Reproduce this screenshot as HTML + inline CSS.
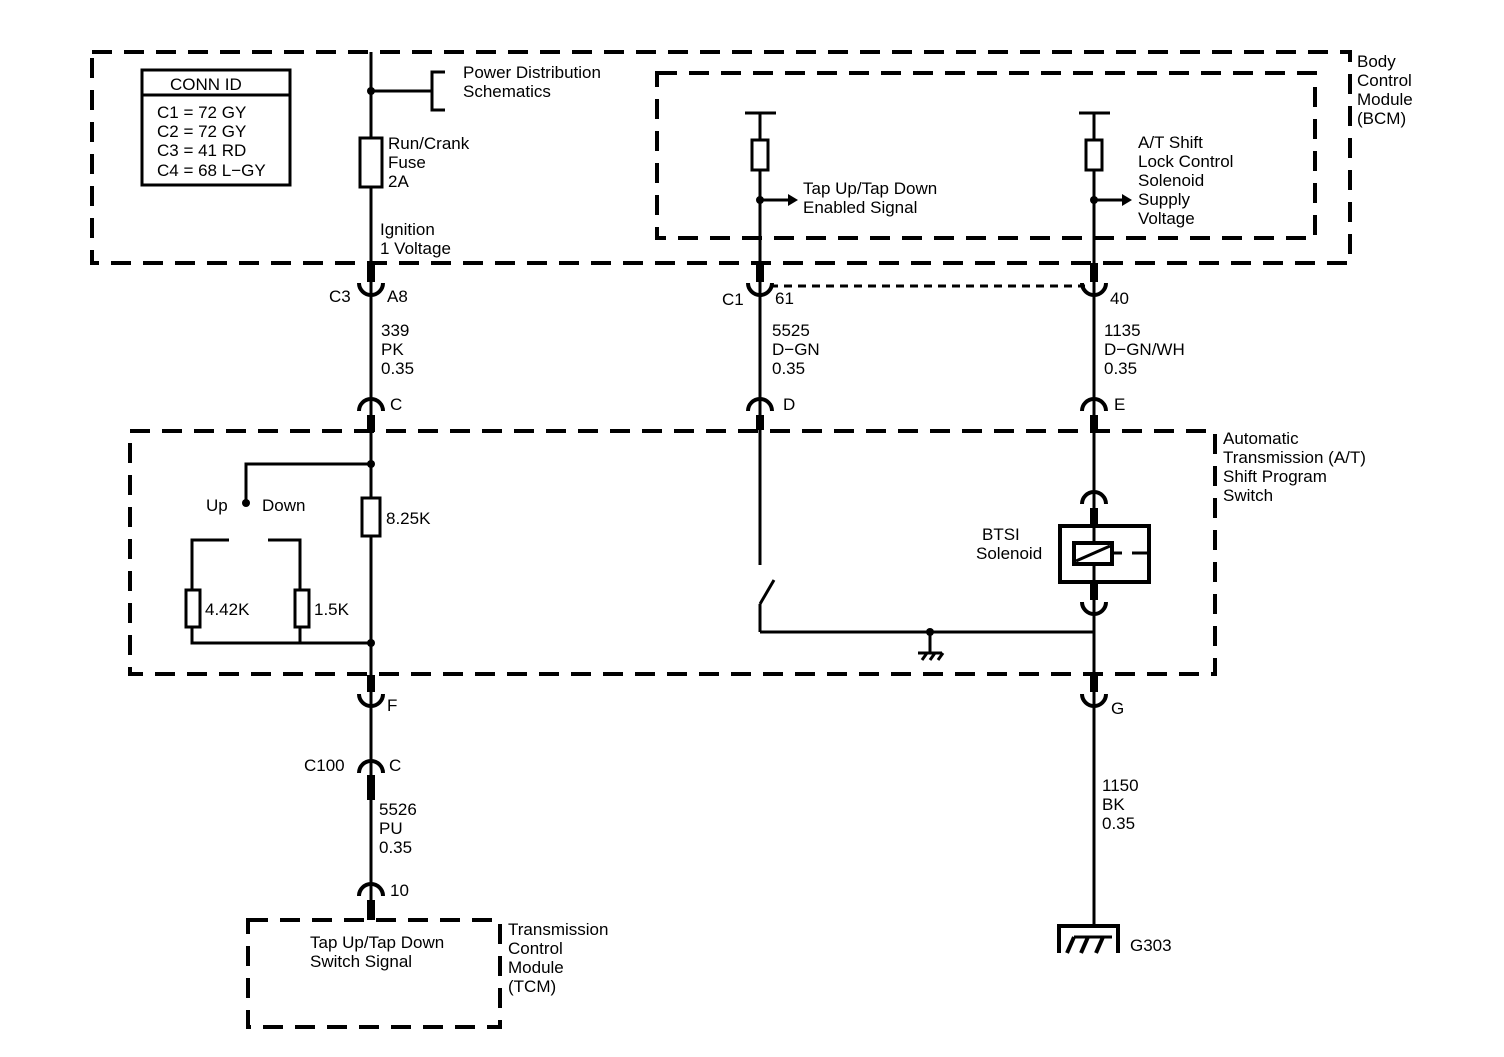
<!DOCTYPE html><html><head><style>body{margin:0;background:#fff}svg text{font-family:"Liberation Sans",sans-serif;font-size:17px;fill:#000}</style></head><body>
<svg width="1504" height="1052" viewBox="0 0 1504 1052" xmlns="http://www.w3.org/2000/svg">
<g fill="none" stroke="#000">
<g stroke-width="4" stroke-dasharray="20,12">
<rect x="92" y="52" width="1258" height="211"/>
<rect x="657" y="73" width="658" height="165"/>
<rect x="130" y="431" width="1085" height="243"/>
<rect x="248" y="920" width="252" height="107"/>
</g>
<line x1="770" y1="286" x2="1085" y2="286" stroke-width="3" stroke-dasharray="8,6"/>
<rect x="142" y="70" width="148" height="115" stroke-width="3"/>
<line x1="142" y1="95" x2="290" y2="95" stroke-width="3"/>
<g stroke-width="3">
<line x1="371" y1="52" x2="371" y2="910"/>
<line x1="371" y1="91" x2="432" y2="91"/><polyline points="445,72 432,72 432,110 445,110"/>
<rect x="360" y="138" width="22" height="49" fill="#fff"/>
<polyline points="371,464 246,464 246,500"/>
<polyline points="229,540 192,540 192,643 371,643"/>
<polyline points="268,540 300,540 300,643"/>
<rect x="186" y="590" width="14" height="37" fill="#fff"/>
<rect x="295" y="590" width="14" height="37" fill="#fff"/>
<rect x="362" y="498" width="18" height="38" fill="#fff"/>
<line x1="745" y1="113" x2="776" y2="113"/><line x1="760" y1="113" x2="760" y2="565"/>
<rect x="752" y="140" width="16" height="30" fill="#fff"/>
<line x1="760" y1="200" x2="790" y2="200"/>
<line x1="760" y1="632" x2="760" y2="604"/><line x1="760" y1="604" x2="774" y2="580"/>
<line x1="760" y1="632" x2="1094" y2="632"/>
<line x1="930" y1="632" x2="930" y2="652"/><line x1="918" y1="653" x2="942" y2="653"/>
<line x1="922" y1="660" x2="927" y2="653"/><line x1="930" y1="660" x2="935" y2="653"/><line x1="938" y1="660" x2="943" y2="653"/>
<line x1="1079" y1="113" x2="1110" y2="113"/><line x1="1094" y1="113" x2="1094" y2="925"/>
<rect x="1086" y="140" width="16" height="30" fill="#fff"/>
<line x1="1094" y1="200" x2="1124" y2="200"/>
</g>
<g stroke-width="4">
<polyline points="1059,953 1059,926 1118,926 1118,953"/>
<line x1="1067" y1="953" x2="1074" y2="937"/><line x1="1081" y1="953" x2="1088" y2="937"/><line x1="1096" y1="953" x2="1103" y2="937"/>
<line x1="1074" y1="937" x2="1112" y2="937" stroke-width="3"/>
</g>
<rect x="1060" y="526" width="89" height="56" stroke-width="4" fill="#fff"/>
<line x1="1094" y1="526" x2="1094" y2="582" stroke-width="3"/>
<rect x="1074" y="543" width="38" height="21" stroke-width="4" fill="#fff"/>
<line x1="1076" y1="561" x2="1110" y2="546" stroke-width="3"/>
<line x1="1112" y1="553" x2="1122" y2="553" stroke-width="3"/><line x1="1132" y1="553" x2="1149" y2="553" stroke-width="3"/>
<g stroke-width="8">
<line x1="371" y1="263" x2="371" y2="282"/><line x1="371" y1="415" x2="371" y2="432"/>
<line x1="371" y1="675" x2="371" y2="692"/><line x1="371" y1="775" x2="371" y2="800"/><line x1="371" y1="900" x2="371" y2="920"/>
<line x1="760" y1="263" x2="760" y2="282"/><line x1="760" y1="415" x2="760" y2="430"/>
<line x1="1094" y1="263" x2="1094" y2="282"/><line x1="1094" y1="415" x2="1094" y2="432"/>
<line x1="1094" y1="508" x2="1094" y2="526"/><line x1="1094" y1="582" x2="1094" y2="600"/>
<line x1="1094" y1="675" x2="1094" y2="692"/>
</g>
<g stroke-width="4">
<path d="M359,283 A12,12 0 0 0 383,283"/><path d="M359,411 A12,12 0 0 1 383,411"/>
<path d="M359,694 A12,12 0 0 0 383,694"/><path d="M359,773 A12,12 0 0 1 383,773"/>
<path d="M359,896 A12,12 0 0 1 383,896"/>
<path d="M748,283 A12,12 0 0 0 772,283"/><path d="M748,411 A12,12 0 0 1 772,411"/>
<path d="M1082,283 A12,12 0 0 0 1106,283"/><path d="M1082,411 A12,12 0 0 1 1106,411"/>
<path d="M1082,504 A12,12 0 0 1 1106,504"/><path d="M1082,602 A12,12 0 0 0 1106,602"/>
<path d="M1082,694 A12,12 0 0 0 1106,694"/>
</g>
</g>
<g fill="#000">
<circle cx="371" cy="91" r="4"/><circle cx="371" cy="464" r="4"/><circle cx="371" cy="643" r="4"/>
<circle cx="246" cy="503" r="4"/><circle cx="760" cy="200" r="4"/><circle cx="1094" cy="200" r="4"/><circle cx="930" cy="632" r="4"/>
<polygon points="788,194 798,200 788,206"/><polygon points="1122,194 1132,200 1122,206"/>
</g>
<text x="170" y="90">CONN ID</text>
<text x="157" y="118">C1 = 72 GY</text><text x="157" y="137">C2 = 72 GY</text><text x="157" y="156">C3 = 41 RD</text><text x="157" y="176">C4 = 68 L−GY</text>
<text x="463" y="78">Power Distribution</text><text x="463" y="97">Schematics</text>
<text x="388" y="149">Run/Crank</text><text x="388" y="168">Fuse</text><text x="388" y="187">2A</text>
<text x="380" y="235">Ignition</text><text x="380" y="254">1 Voltage</text>
<text x="1357" y="67">Body</text><text x="1357" y="86">Control</text><text x="1357" y="105">Module</text><text x="1357" y="124">(BCM)</text>
<text x="803" y="194">Tap Up/Tap Down</text><text x="803" y="213">Enabled Signal</text>
<text x="1138" y="148">A/T Shift</text><text x="1138" y="167">Lock Control</text><text x="1138" y="186">Solenoid</text><text x="1138" y="205">Supply</text><text x="1138" y="224">Voltage</text>
<text x="329" y="302">C3</text><text x="387" y="302">A8</text>
<text x="381" y="336">339</text><text x="381" y="355">PK</text><text x="381" y="374">0.35</text>
<text x="390" y="410">C</text>
<text x="722" y="305">C1</text><text x="775" y="304">61</text>
<text x="772" y="336">5525</text><text x="772" y="355">D−GN</text><text x="772" y="374">0.35</text>
<text x="783" y="410">D</text>
<text x="1110" y="304">40</text>
<text x="1104" y="336">1135</text><text x="1104" y="355">D−GN/WH</text><text x="1104" y="374">0.35</text>
<text x="1114" y="410">E</text>
<text x="1223" y="444">Automatic</text><text x="1223" y="463">Transmission (A/T)</text><text x="1223" y="482">Shift Program</text><text x="1223" y="501">Switch</text>
<text x="206" y="511">Up</text><text x="262" y="511">Down</text>
<text x="386" y="524">8.25K</text>
<text x="205" y="615">4.42K</text><text x="314" y="615">1.5K</text>
<text x="982" y="540">BTSI</text><text x="976" y="559">Solenoid</text>
<text x="387" y="711">F</text><text x="1111" y="714">G</text>
<text x="304" y="771">C100</text><text x="389" y="771">C</text>
<text x="379" y="815">5526</text><text x="379" y="834">PU</text><text x="379" y="853">0.35</text>
<text x="390" y="896">10</text>
<text x="1102" y="791">1150</text><text x="1102" y="810">BK</text><text x="1102" y="829">0.35</text>
<text x="1130" y="951">G303</text>
<text x="310" y="948">Tap Up/Tap Down</text><text x="310" y="967">Switch Signal</text>
<text x="508" y="935">Transmission</text><text x="508" y="954">Control</text><text x="508" y="973">Module</text><text x="508" y="992">(TCM)</text>
</svg></body></html>
